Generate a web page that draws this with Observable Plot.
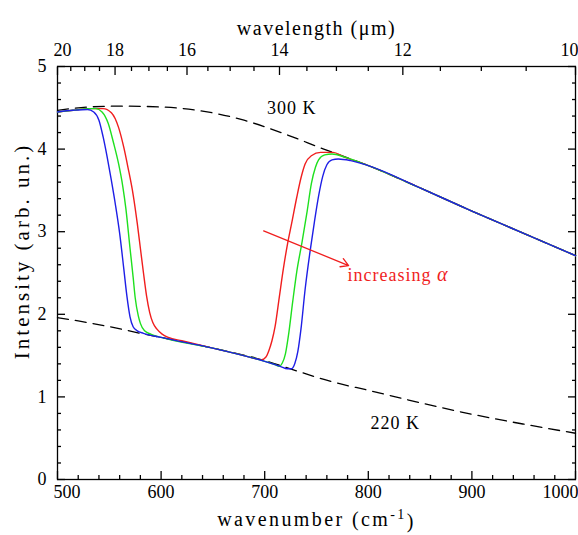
<!DOCTYPE html>
<html><head><meta charset="utf-8">
<script src="https://cdn.jsdelivr.net/npm/d3@7"></script>
<script src="https://cdn.jsdelivr.net/npm/@observablehq/plot@0.6"></script>
<style>
body{margin:0;background:#fff;overflow:hidden}
</style>
</head><body><div id="chart"></div>
<script>
// ---- tick labels ----
const xMajor = [500, 600, 700, 800, 900, 1000];
const yMajor = [0, 1, 2, 3, 4, 5];
const topMajorLambda = [20, 18, 16, 14, 12, 10];
const topMinorLambda = [19.5, 19, 18.5, 17.5, 17, 16.5, 15.5, 15, 14.5, 13.5, 13, 12.5, 11.5, 11, 10.5];

// ---- series: [wavenumber, intensity] ----
const bb300 = [[500,4.47],[530,4.51],[560,4.52],[600,4.51],[640,4.46],[680,4.35],[720,4.18],[757,4.0],[800,3.8],[850,3.53],[900,3.25],[950,2.98],[1000,2.71]];
const bb220 = [[500,1.96],[520,1.92],[550,1.85],[580,1.77],[600,1.72],[650,1.59],[700,1.44],[727,1.33],[766,1.18],[800,1.08],[850,0.93],[900,0.79],[950,0.67],[1000,0.56]];

const redSeries = [[500,4.45],[515,4.47],[530,4.49],[544,4.49],[552,4.44],[559,4.26],[564,4.02],[568,3.78],[573,3.45],[577,3.1],[580,2.8],[583,2.5],[586,2.22],[589,2.02],[592,1.9],[596,1.82],[601,1.76],[607,1.72],[620,1.68],[650,1.59],[680,1.5],[692,1.46],[697,1.45],[701,1.48],[704,1.56],[707,1.68],[710,1.85],[714,2.2],[718,2.55],[722,2.85],[726,3.1],[731,3.42],[735,3.65],[739,3.82],[745,3.92],[754,3.96],[766,3.96],[776,3.91],[800,3.8],[850,3.53],[900,3.25],[950,2.98],[1000,2.71]];
const greenSeries = [[500,4.45],[515,4.47],[530,4.49],[537,4.49],[543,4.45],[549,4.31],[554,4.08],[559,3.82],[563,3.55],[566,3.28],[570,2.8],[573,2.45],[575,2.2],[578,1.98],[580,1.89],[584,1.8],[590,1.76],[600,1.72],[650,1.59],[700,1.43],[710,1.39],[714,1.37],[717,1.41],[720,1.52],[723,1.75],[727,2.15],[731,2.52],[736,2.87],[741,3.25],[745,3.58],[749,3.78],[752,3.87],[758,3.93],[765,3.94],[778,3.9],[800,3.8],[850,3.53],[900,3.25],[950,2.98],[1000,2.71]];
const blueSeries = [[500,4.45],[515,4.47],[529,4.48],[535,4.45],[540,4.35],[544,4.15],[548,3.9],[552,3.62],[556,3.32],[560,2.98],[564,2.55],[567,2.22],[570,1.97],[573,1.85],[577,1.8],[583,1.77],[600,1.72],[650,1.59],[700,1.43],[715,1.37],[722,1.34],[726,1.34],[729,1.4],[732,1.55],[735,1.82],[739,2.3],[744,2.78],[748,3.12],[752,3.43],[756,3.67],[760,3.81],[765,3.87],[771,3.88],[783,3.86],[800,3.8],[850,3.53],[900,3.25],[950,2.98],[1000,2.71]];

const tempLabels = [{x: 726, y: 4.5, text: "300 K"}, {x: 826, y: 0.68, text: "220 K"}];
const arrowData = [{x1: 699, y1: 3.01, x2: 781, y2: 2.59}];
const arrowLabel = [{x: 780, y: 2.47, text: "increasing α"}];

const RED = "#f01e1e", GREEN = "#1ee01e", BLUE = "#1e1ee6";
const FONT = "'Liberation Serif', 'Times New Roman', serif";

const rows = (arr, name) => arr.map(([x, y]) => ({x, y, name}));
const xMinor = d3.range(520, 1000, 20).filter(v => v % 100 !== 0);
const yMinor = d3.range(1, 25).map(i => i / 5).filter(v => !Number.isInteger(v));
const wn = l => 1e4 / l;
const xInner = xMajor.slice(1, -1);
const topInner = topMajorLambda.slice(1, -1);
const SW = 1.3;

const chart = Plot.plot({
  width: 578, height: 535,
  marginTop: 66, marginBottom: 56, marginLeft: 57, marginRight: 3,
  style: {fontSize: "18px", fontFamily: FONT, background: "#fff", color: "#000"},
  x: {domain: [500, 1000]},
  y: {domain: [0, 5]},
  marks: [
    Plot.frame({stroke: "#000", strokeWidth: SW}),
    // bottom axis
    Plot.axisX({anchor: "bottom", ticks: xMajor, tickSize: -8, tickPadding: 14, tickFormat: d => xInner.includes(d) ? String(d) : "", label: null, strokeWidth: SW}),
    Plot.axisX({anchor: "bottom", ticks: [xMajor[0]], tickSize: 0, tickPadding: 6, textAnchor: "start", dx: -4, tickFormat: d => String(d), label: null}),
    Plot.axisX({anchor: "bottom", ticks: [xMajor[xMajor.length - 1]], tickSize: 0, tickPadding: 6, textAnchor: "end", dx: 3, tickFormat: d => String(d), label: null}),
    Plot.axisX({anchor: "bottom", ticks: xMinor, tickSize: -4, tickFormat: () => "", label: null, strokeWidth: SW}),
    // top axis (wavelength)
    Plot.axisX({anchor: "top", ticks: topMajorLambda.map(wn), tickSize: -8, tickPadding: 19, tickFormat: d => { const l = Math.round(1e4 / d); return topInner.includes(l) ? String(l) : ""; }, label: null, strokeWidth: SW}),
    Plot.axisX({anchor: "top", ticks: [wn(topMajorLambda[0])], tickSize: 0, tickPadding: 11, textAnchor: "start", dx: -4, tickFormat: d => String(Math.round(1e4 / d)), label: null}),
    Plot.axisX({anchor: "top", ticks: [wn(topMajorLambda[topMajorLambda.length - 1])], tickSize: 0, tickPadding: 11, textAnchor: "end", dx: 3, tickFormat: d => String(Math.round(1e4 / d)), label: null}),
    Plot.axisX({anchor: "top", ticks: topMinorLambda.map(wn), tickSize: -4, tickFormat: () => "", label: null, strokeWidth: SW}),
    // left axis
    Plot.axisY({anchor: "left", ticks: yMajor, tickSize: -8, tickPadding: 19, tickFormat: d => String(d), label: null, strokeWidth: SW}),
    Plot.axisY({anchor: "left", ticks: yMinor, tickSize: -4, tickFormat: () => "", label: null, strokeWidth: SW}),
    // right axis
    Plot.axisY({anchor: "right", ticks: yMajor, tickSize: -8, tickFormat: () => "", label: null, strokeWidth: SW}),
    Plot.axisY({anchor: "right", ticks: yMinor, tickSize: -4, tickFormat: () => "", label: null, strokeWidth: SW}),
    // dashed blackbody curves
    Plot.line(rows(bb300, "300"), {x: "x", y: "y", stroke: "#000", strokeWidth: SW, strokeDasharray: "11,7", curve: "monotone-x"}),
    Plot.line(rows(bb220, "220"), {x: "x", y: "y", stroke: "#000", strokeWidth: SW, strokeDasharray: "11,7", curve: "monotone-x"}),
    // colored spectra
    Plot.line(rows(redSeries, "red"), {x: "x", y: "y", stroke: RED, strokeWidth: 1.4, curve: "monotone-x"}),
    Plot.line(rows(greenSeries, "green"), {x: "x", y: "y", stroke: GREEN, strokeWidth: 1.4, curve: "monotone-x"}),
    Plot.line(rows(blueSeries, "blue"), {x: "x", y: "y", stroke: BLUE, strokeWidth: 1.4, curve: "monotone-x"}),
    // annotations
    Plot.text(tempLabels, {x: "x", y: "y", text: "text", fontSize: 18, fill: "#000"}),
    Plot.arrow(arrowData, {x1: "x1", y1: "y1", x2: "x2", y2: "y2", stroke: RED, strokeWidth: SW, headLength: 10}),
    Plot.text(arrowLabel, {x: "x", y: "y", text: "text", textAnchor: "start", fontSize: 18, fill: RED}),
    // axis titles
    Plot.text(["wavelength (μm)"], {frameAnchor: "top", dy: -46, fontSize: 20, fill: "#000"}),
    Plot.text(["wavenumber (cm-1)"], {frameAnchor: "bottom", dy: 46, fontSize: 20, fill: "#000"}),
    Plot.text(["Intensity (arb. un.)"], {frameAnchor: "left", textAnchor: "middle", dx: -35, dy: -22, rotate: -90, fontSize: 21, fill: "#000"})
  ]
});
document.getElementById("chart").appendChild(chart);

// serif font everywhere, superscript for cm^-1, italic alpha, letter spacing on titles
chart.setAttribute("font-family", FONT);
d3.select(chart).selectAll("g, text").each(function() {
  this.setAttribute("font-family", FONT);
  this.style.setProperty("font-family", FONT, "important");
});
d3.select(chart).selectAll("text").each(function() {
  const s = this.textContent;
  const t = d3.select(this);
  if (s === "wavenumber (cm-1)") {
    t.text(null);
    t.append("tspan").text("wavenumber (cm");
    t.append("tspan").attr("dy", "-0.45em").attr("font-size", "14").text("-1");
    t.append("tspan").attr("dy", "0.45em").text(")");
    this.setAttribute("letter-spacing", "2.4");
  }
  if (s === "wavelength (μm)") this.setAttribute("letter-spacing", "1.5");
  if (s === "Intensity (arb. un.)") this.setAttribute("letter-spacing", "3");
  if (s === "300 K" || s === "220 K") this.setAttribute("letter-spacing", "1");
  if (s === "increasing α") {
    t.text(null);
    t.append("tspan").text("increasing ");
    t.append("tspan").attr("font-style", "italic").attr("font-size", "20").text("α");
    this.setAttribute("letter-spacing", "1");
  }
});
</script>
</body></html>
